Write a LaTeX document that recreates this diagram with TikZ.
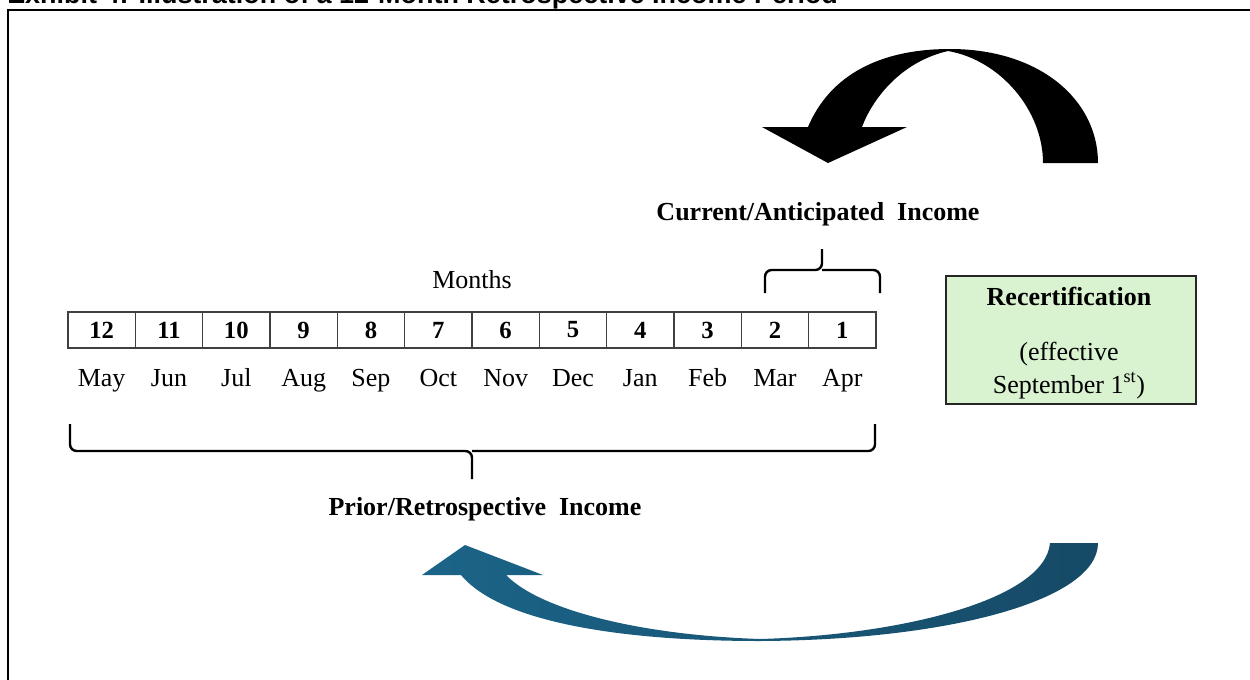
\documentclass[tikz,border=0pt]{standalone}
\usepackage{fontspec}
\setmainfont{Liberation Serif}
\newfontfamily\arialfont{Liberation Sans}
\definecolor{boxgreen}{HTML}{D9F2D0}
\definecolor{blueL}{HTML}{1B6488}
\definecolor{blueD}{HTML}{164A66}
\begin{document}
\begin{tikzpicture}[x=0.75pt,y=-0.75pt,
  txt/.style={font=\fontsize{19.5}{23}\selectfont, inner sep=0pt},
  btxt/.style={font=\fontsize{19.5}{23}\selectfont\bfseries, inner sep=0pt},
  cell/.style={draw=black!75, line width=1.1pt, minimum width=50.5pt, minimum height=27pt, inner sep=0pt, font=\fontsize{18.5}{20}\selectfont\bfseries},
  bracepath/.style={line width=1.8pt, rounded corners=5pt},
  frame/.style={line width=1.6pt},
]
\useasboundingbox (0,0) rectangle (1250,679);
\clip (0,0) rectangle (1250,679);
% title (clipped at the top)
\node[anchor=base west, inner sep=0pt] (title) at (7,3) {\resizebox{623pt}{!}{\arialfont\bfseries Exhibit 4: Illustration of a 12-Month Retrospective Income Period}};
% frame
\coordinate (fbl) at (8,700);
\coordinate (ftl) at (8,10);
\coordinate (ftr) at (1270,10);
\draw[frame] (fbl) -- (ftl) -- (ftr);
% cells and months
\foreach \n/\m [count=\i] in {12/May,11/Jun,10/Jul,9/Aug,8/Sep,7/Oct,6/Nov,5/Dec,4/Jan,3/Feb,2/Mar,1/Apr} {
  \node[cell] (c\n) at ({68+67.33*(\i-0.5)},330) {\n};
  \node[txt, anchor=base] (m\n) at ({68+67.33*(\i-0.5)},386) {\m};
}
\node[txt, anchor=base] (months) at (472,288) {Months};
% top brace
\coordinate (tb1) at (765,293);
\coordinate (tb2) at (880,293);
\coordinate (tbm) at (822,270);
\coordinate (tbt) at (822,249);
\draw[bracepath] (tb1) |- (tbm) -- (tbt);
\draw[bracepath] (tb2) |- (tbm);
\node[btxt, anchor=base] (cur) at (818,220) {Current/Anticipated\ \ Income};
% bottom brace
\coordinate (bb1) at (70,424);
\coordinate (bb2) at (875,424);
\coordinate (bbm) at (472,451);
\coordinate (bbt) at (472,479);
\draw[bracepath] (bb1) |- (bbm) -- (bbt);
\draw[bracepath] (bb2) |- (bbm);
\node[btxt, anchor=base] (prior) at (485,515) {Prior/Retrospective\ \ Income};
% recertification box
\node[draw=black!85, fill=boxgreen, line width=1.6pt, minimum width=187.5pt, minimum height=96pt] (recert) at (1071,340) {};
\node[btxt, anchor=base] (rt1) at (1069,305) {Recertification};
\node[txt, anchor=base] (rt2) at (1069,360) {(effective};
\node[txt, anchor=base] (rt3) at (1069,393) {September 1\textsuperscript{st})};
% top black curved arrow
\fill[black] (1043,163) .. controls (1043,110) and (1000,60) .. (948,51)
  .. controls (900,62) and (872,100) .. (862,127) -- (907,127) -- (828,163) -- (762,127) -- (808,127)
  .. controls (830,75) and (880,49) .. (950,49)
  .. controls (1040,49) and (1098,100) .. (1098,163) -- cycle;
% bottom blue curved arrow
\shade[left color=blueL, right color=blueD] (1050,543) .. controls (1045,600) and (900,635) .. (760,639)
  .. controls (640,635) and (540,610) .. (506,575) -- (543,575) -- (465,545) -- (422,575) -- (461,575)
  .. controls (500,622) and (620,641) .. (760,641)
  .. controls (950,640) and (1098,600) .. (1098,543) -- cycle;
\end{tikzpicture}
\end{document}
